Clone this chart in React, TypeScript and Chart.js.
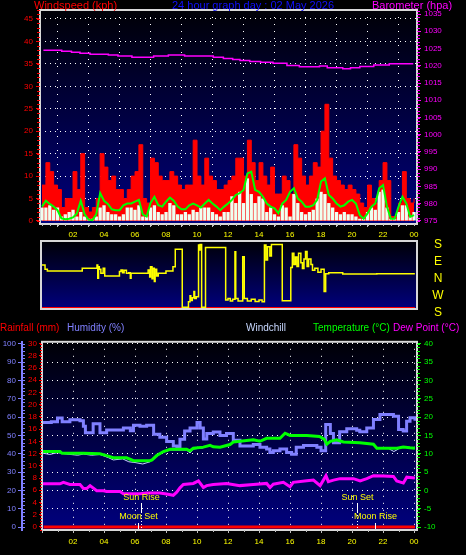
import React, { useEffect, useRef } from 'react';
import { Chart, registerables } from 'chart.js';

Chart.register(...registerables);

const FONT = "'Liberation Sans', Arial, sans-serif";

// ---------- shared hour axis ----------
const hourTicks = [0, 2, 4, 6, 8, 10, 12, 14, 16, 18, 20, 22, 24];

// ---------- top panel: wind (15-minute samples, 00:00 .. 24:00) ----------
const windStepHours = 0.25;
const windGust = [8, 13, 11, 8, 7, 3, 5, 5, 11, 7, 15, 3, 2, 3, 5, 15, 12, 9, 10, 7, 7, 5, 7, 10, 11, 17, 5, 4, 14, 13, 10, 9, 9, 11, 10, 8, 7, 8, 8, 18, 10, 8, 14, 10, 9, 7, 7, 8, 9, 10, 14, 14, 10, 18, 13, 9, 13, 10, 8, 12, 6, 6, 10, 9, 6, 17, 14, 10, 8, 10, 13, 12, 20, 26, 14, 10, 9, 8, 7, 8, 7, 6, 4, 3, 8, 5, 4, 9, 13, 9, 1, 1, 4, 11, 5, 4, 5];
const windSpeed = [3, 3, 3.5, 2.5, 3, 1, 1.5, 2, 2.5, 1, 2, 1, 0.5, 0.5, 1, 3, 3.5, 2, 1.5, 1.5, 1, 1.5, 3, 3, 2.5, 3.5, 1, 1, 3, 3.5, 2, 1.5, 2, 4, 3.5, 1.5, 1.5, 2, 1.5, 2.5, 2, 3, 3, 3, 2, 1.5, 1, 2, 2, 5.5, 4, 6.5, 4, 9.5, 6, 4, 5.5, 5, 2, 3, 1.5, 1, 3.5, 3, 1, 6, 4, 2, 1.5, 2, 2.5, 5, 6.5, 6, 4, 3, 2, 1.5, 2, 1.5, 1.5, 1, 0.5, 0.5, 2, 3, 2.5, 6.5, 7, 3, 0.5, 0.5, 2, 3.5, 3.5, 1, 2];
const windAverage = [3.2, 4.5, 3.8, 3.2, 2.4, 0.6, 0.4, 0.5, 0.8, 1.7, 4.5, 1.5, 0.3, 0.2, 1.5, 6.2, 4.5, 3.8, 2.6, 2.4, 2.4, 3.5, 3.9, 3.9, 4.3, 4.7, 1.5, 1.0, 4.0, 5.4, 3.5, 3.2, 4.3, 5.2, 4.5, 3.2, 2.6, 2.6, 3.5, 3.9, 3.5, 3.0, 3.9, 4.7, 3.9, 3.2, 2.4, 3.2, 3.9, 4.7, 5.8, 6.2, 6.9, 10.6, 11, 6.9, 6.5, 5.4, 3.9, 3.2, 2.8, 1.7, 3.9, 4.7, 6.5, 7.3, 5, 4.3, 3.2, 3.2, 3.5, 4.7, 8.8, 9.5, 5.8, 5, 3.9, 3.2, 3.5, 4.3, 4.7, 3.9, 1.3, 0.5, 1.7, 3.2, 3.9, 7.3, 8, 3.2, 0.5, 0.5, 3.2, 5.4, 3.9, 0.9, 1.3];
const windTicks = [0, 5, 10, 15, 20, 25, 30, 35, 40, 45];

const baroHours = [0.09, 1.27, 1.9, 2.45, 3.1, 4.28, 4.9, 5.8, 7.2, 8.15, 9.2, 11.05, 11.7, 12.3, 12.77, 13.4, 14.1, 14.9, 15.8, 16.6, 17.9, 18.4, 19.4, 19.9, 20.5, 21.4, 22.4, 23.95];
const baroValues = [1024.5, 1024.2, 1023.9, 1023.6, 1023.3, 1023.1, 1022.8, 1022.5, 1022.8, 1023.1, 1022.8, 1022.5, 1022.1, 1021.8, 1021.5, 1021.2, 1021.0, 1020.7, 1020.1, 1019.7, 1019.9, 1019.4, 1019.1, 1019.4, 1019.8, 1020.2, 1020.6, 1020.6];
const baroTicks = [975, 980, 985, 990, 995, 1000, 1005, 1010, 1015, 1020, 1025, 1030, 1035];

// ---------- middle panel: wind direction ----------
const dirHours = [0.0, 0.2, 0.35, 2.6, 3.55, 3.6, 3.65, 3.7, 3.8, 3.95, 4.05, 5.0, 5.1, 5.2, 5.3, 5.45, 5.6, 5.7, 5.75, 6.0, 6.85, 6.95, 7.0, 7.1, 7.15, 7.25, 7.3, 7.4, 7.5, 8.0, 8.45, 8.6, 9.05, 9.45, 9.55, 9.6, 9.7, 9.8, 9.85, 9.95, 10.1, 10.15, 10.2, 10.3, 10.55, 11.85, 12.0, 12.15, 12.3, 12.45, 12.5, 12.65, 12.95, 13.05, 13.25, 13.5, 13.75, 14.0, 14.2, 14.35, 14.45, 14.55, 14.7, 14.8, 15.5, 16.05, 16.15, 16.25, 16.35, 16.45, 16.55, 16.7, 16.8, 16.9, 17.0, 17.1, 17.2, 17.35, 17.45, 17.6, 17.8, 18.0, 18.2, 18.3, 18.5, 19.4, 21.6, 24.05];
const dirValues = [53, 30, 21, 36, 53, -17, 44, 30, 9, 36, -5, 18, 27, 12, 25, 9, 12, -17, 9, 9, 27, -10, 44, -20, 36, -35, 30, -5, 9, 21, 44, 136, -171, -141, -110, -135, -120, -88, -125, -115, 159, 132, 162, -171, 145, -132, -125, -138, -128, 123, -125, -138, 97, -125, -138, -128, -140, -132, -142, 159, 80, 150, 100, 162, -136, 40, 115, 55, 95, 45, 115, 65, 35, 85, 125, 45, 85, 55, 25, 36, 15, 30, -88, 7, 12, 5, 7, 7];
const dirBaseHours = [0.0, 24.05];
const dirBaseValues = [-175, -175];
const compassValues = [180, 90, 0, -90, -180];
const compassLabels = ['S', 'E', 'N', 'W', 'S'];

// ---------- bottom panel ----------
const humHours = [0, 0.6, 1.0, 1.3, 1.8, 2.45, 2.67, 2.8, 3.3, 3.74, 4.17, 5.25, 5.7, 5.9, 6.32, 6.75, 7.2, 7.6, 8.04, 8.47, 8.7, 8.9, 9.2, 9.55, 10.0, 10.2, 10.41, 10.63, 11.05, 11.48, 11.9, 12.34, 12.77, 13.2, 13.63, 14.06, 14.49, 14.7, 14.92, 15.35, 15.78, 16.1, 16.4, 16.87, 17.3, 17.73, 18.0, 18.3, 18.6, 18.8, 19.2, 19.66, 20.3, 20.5, 20.95, 21.38, 21.8, 22.67, 23.0, 23.3, 23.52, 23.74, 24.06];
const humValues = [57, 57.5, 59.5, 57.5, 58.5, 58, 55, 51.5, 56.4, 51.5, 53, 54, 52.5, 55.6, 55, 55.6, 50.6, 49, 46.7, 44.3, 43.7, 47.9, 52.4, 54, 57, 54, 48, 51, 51.9, 50, 51, 47.4, 44.3, 44.3, 45, 43.5, 42.6, 40.7, 41.6, 42.6, 40.7, 39.8, 43.5, 44.5, 44.5, 43.5, 41.6, 56, 51, 46, 52, 53.7, 52.8, 52, 54, 58.7, 61.4, 60.5, 53.3, 52.4, 57.7, 59.6, 58];

const tempHours = [0, 1.16, 1.3, 2.67, 3.74, 4.17, 4.6, 5.46, 5.9, 6.97, 7.1, 7.4, 7.83, 8.26, 9.33, 9.55, 9.76, 10.41, 10.84, 11.05, 11.48, 12.13, 12.34, 12.77, 13.63, 14.06, 14.49, 15.35, 15.68, 16.0, 17.08, 17.9, 18.2, 18.37, 18.6, 19.0, 19.44, 20.5, 21.38, 21.6, 22.9, 23.3, 23.74, 24.06];
const tempValues = [10.6, 10.6, 10.1, 10.1, 10.0, 9.5, 8.9, 8.9, 8.1, 8.1, 8.3, 9.5, 10.6, 11.2, 11.2, 10.8, 11.5, 11.8, 12.3, 11.9, 11.8, 12.5, 13.2, 13.4, 13.8, 13.4, 14.2, 14.2, 15.6, 15.0, 15.0, 14.7, 14.0, 12.6, 13.4, 13.8, 13.2, 13.0, 12.6, 11.5, 11.5, 11.8, 11.6, 11.5];

const chillHours = [0, 0.5, 1.0, 1.6, 2.3, 2.67, 3.2, 3.74, 4.3, 4.6, 5.2, 5.6, 6.0, 6.5, 6.97, 7.4, 7.83, 8.26, 9.33, 9.55, 9.76, 10.41, 10.5, 22.4, 22.7, 23.0];
const chillValues = [10.2, 9.8, 10.3, 9.9, 9.6, 9.9, 9.6, 9.8, 8.9, 8.3, 8.6, 7.8, 7.6, 7.2, 7.8, 9.3, 10.4, 11.0, 11.0, 10.2, 11.3, 11.6, null, 11.3, 10.6, 11.3];

const dewHours = [0, 1.16, 1.38, 1.8, 2.45, 2.67, 2.88, 3.1, 3.53, 3.96, 4.17, 5.03, 5.25, 6.32, 6.75, 7.61, 8.04, 8.47, 8.69, 8.9, 9.12, 9.76, 10.09, 10.41, 10.62, 11.05, 11.91, 12.77, 13.63, 14.49, 14.71, 14.92, 15.57, 16.0, 16.21, 17.08, 17.51, 17.94, 18.32, 18.47, 18.8, 19.23, 20.09, 20.52, 20.95, 21.38, 22.02, 22.67, 22.88, 23.31, 23.53, 24.06];
const dewValues = [1.8, 1.8, 2.2, 1.6, 1.6, 0.5, 0.5, 1.3, -0.1, -0.1, -0.3, -0.3, -0.9, -0.9, -0.7, -0.7, -1.0, -1.35, -0.5, 0.7, 1.6, 1.9, 2.6, 0.8, 1.3, 1.6, 1.9, 1.3, 1.6, 1.9, 0.8, 1.7, 2.2, 1.0, 2.2, 2.6, 2.8, 1.3, 4.0, 2.4, 2.8, 3.2, 3.2, 2.6, 3.2, 4.0, 3.9, 3.8, 2.6, 2.0, 3.6, 3.4];

const rainHours = [0.1, 24.06];
const rainValues = [0, 0];

const humTicks = [0, 10, 20, 30, 40, 50, 60, 70, 80, 90, 100];
const rainTicks = [0, 2, 4, 6, 8, 10, 12, 14, 16, 18, 20, 22, 24, 26, 28, 30];
const tempTicks = [-10, -5, 0, 5, 10, 15, 20, 25, 30, 35, 40];

const eventLabels = ['Sun Rise', 'Moon Set', 'Sun Set', 'Moon Rise'];
const eventHours = [6.39, 6.21, 20.34, 21.5];
const eventRows = [0, 1, 0, 1];

// ---------- helpers ----------
const pts = (xs: number[], ys: (number | null)[]) => xs.map((x, i) => ({ x, y: ys[i] }));
const windPts = (vals: number[]) => vals.map((v, i) => ({ x: i * windStepHours, y: v }));
const hourLabel = (v: number) => (v === 0 ? '' : String(Math.round(v) % 24).padStart(2, '0'));
const plainLabel = (v: any) => String(v);
const setTicks = (vals: number[]) => (s: any) => { s.ticks = vals.map((v) => ({ value: v })); };
const clear = 'rgba(0,0,0,0)';

const bgPlugin = {
  id: 'bgGrad',
  beforeDraw(chart: any) {
    const { ctx, chartArea: a } = chart;
    if (!a) return;
    const g = ctx.createLinearGradient(0, a.top, 0, a.bottom);
    g.addColorStop(0, '#000006');
    g.addColorStop(1, '#00007e');
    ctx.save();
    ctx.fillStyle = g;
    ctx.fillRect(a.left, a.top, a.right - a.left, a.bottom - a.top);
    ctx.restore();
  },
};

const framePlugin = {
  id: 'frame',
  afterDraw(chart: any) {
    const { ctx, chartArea: a } = chart;
    ctx.save();
    ctx.strokeStyle = '#d8d8d8';
    ctx.lineWidth = 2;
    ctx.strokeRect(a.left, a.top, a.right - a.left, a.bottom - a.top);
    ctx.restore();
  },
};

const compassPlugin = {
  id: 'compass',
  afterDraw(chart: any) {
    const { ctx, chartArea: a } = chart;
    const s = chart.scales.yD;
    ctx.save();
    ctx.font = `12px ${FONT}`;
    ctx.fillStyle = '#ffff00';
    ctx.textAlign = 'center';
    ctx.textBaseline = 'middle';
    compassValues.forEach((v, i) => {
      ctx.fillText(compassLabels[i], a.right + 21, s.getPixelForValue(v) + 4);
    });
    ctx.restore();
  },
};

type Minor = { id: string; step: number; len: number; color: string; dir: number };
const minorPlugin = (list: Minor[]) => ({
  id: 'minorTicks',
  afterDraw(chart: any) {
    const { ctx } = chart;
    ctx.save();
    ctx.lineWidth = 1;
    for (const m of list) {
      const s = chart.scales[m.id];
      if (!s) continue;
      ctx.strokeStyle = m.color;
      const n0 = Math.ceil(s.min / m.step - 1e-9);
      const n1 = Math.floor(s.max / m.step + 1e-9);
      for (let n = n0; n <= n1; n++) {
        const p = Math.round(s.getPixelForValue(n * m.step)) + 0.5;
        ctx.beginPath();
        if (s.isHorizontal()) {
          const y = s.top;
          ctx.moveTo(p, y);
          ctx.lineTo(p, y + m.dir * m.len);
        } else {
          const x = s.position === 'left' ? s.right : s.left;
          ctx.moveTo(x, p);
          ctx.lineTo(x + m.dir * m.len, p);
        }
        ctx.stroke();
      }
    }
    ctx.restore();
  },
});

const eventsPlugin = {
  id: 'events',
  afterDatasetsDraw(chart: any) {
    const { ctx, chartArea: a } = chart;
    const xs = chart.scales.x;
    ctx.save();
    ctx.font = `9px ${FONT}`;
    ctx.textAlign = 'center';
    ctx.textBaseline = 'middle';
    eventLabels.forEach((lab, i) => {
      const px = Math.round(xs.getPixelForValue(eventHours[i])) + 0.5;
      const row = eventRows[i];
      ctx.fillStyle = '#ffff00';
      ctx.fillText(lab, px, row === 0 ? a.bottom - 32 : a.bottom - 13);
      ctx.strokeStyle = '#ffffff';
      ctx.lineWidth = 1;
      ctx.setLineDash([]);
      ctx.beginPath();
      if (row === 0) {
        ctx.moveTo(px, a.bottom - 27);
        ctx.lineTo(px, a.bottom - 18);
        ctx.stroke();
        ctx.setLineDash([1, 2]);
        ctx.beginPath();
        ctx.moveTo(px, a.bottom - 18);
        ctx.lineTo(px, a.bottom);
        ctx.stroke();
      } else {
        ctx.moveTo(px, a.bottom - 7);
        ctx.lineTo(px, a.bottom);
        ctx.stroke();
      }
    });
    ctx.restore();
  },
};

const tickFont = { family: FONT, size: 8 };
const X_MAX = 24.19;

export default function App() {
  const topRef = useRef<HTMLCanvasElement>(null);
  const midRef = useRef<HTMLCanvasElement>(null);
  const botRef = useRef<HTMLCanvasElement>(null);

  useEffect(() => {
    Chart.defaults.font.family = FONT;
    const common = {
      responsive: false,
      animation: false as const,
      events: [] as any[],
      plugins: { legend: { display: false }, tooltip: { enabled: false }, title: { display: false } },
    };

    const top = new Chart(topRef.current as HTMLCanvasElement, {
      type: 'line',
      data: {
        datasets: [
          { type: 'line', data: pts(baroHours, baroValues), yAxisID: 'yB', borderColor: '#ff00ff', borderWidth: 1.5, pointRadius: 0, stepped: true, order: 1 },
          { type: 'line', data: windPts(windAverage), yAxisID: 'yW', borderColor: '#00ff00', borderWidth: 2, pointRadius: 0, order: 2 },
          { type: 'bar', data: windPts(windSpeed), yAxisID: 'yW', backgroundColor: '#eefff0', barPercentage: 0.85, categoryPercentage: 1, order: 3 },
          { type: 'line', data: windPts(windGust), yAxisID: 'yW', borderColor: '#ff0000', backgroundColor: '#ff0000', borderWidth: 1, fill: 'origin', stepped: true, pointRadius: 0, order: 4 },
        ] as any,
      },
      options: {
        ...common,
        layout: { padding: { top: 10, left: 0, right: 0, bottom: 0 } },
        scales: {
          x: {
            type: 'linear', min: -0.13, max: X_MAX, offset: false,
            afterBuildTicks: setTicks(hourTicks),
            afterFit: (s: any) => { s.height = 17; },
            ticks: { color: '#ffff00', font: tickFont, padding: 3, maxRotation: 0, autoSkip: false, callback: (v: any) => hourLabel(Number(v)) },
            grid: { color: (c: any) => (c.tick && c.tick.value === 0 ? clear : '#ffffff'), tickLength: 3, tickColor: '#c0c0c0' },
            border: { display: false, dash: [1, 6] },
          },
          yW: {
            type: 'linear', position: 'left', min: -0.67, max: 47,
            afterBuildTicks: setTicks(windTicks),
            afterFit: (s: any) => { s.width = 40; },
            ticks: { color: '#ff0000', font: tickFont, padding: 3, autoSkip: false, callback: plainLabel },
            grid: { color: (c: any) => (c.tick && c.tick.value === 0 ? clear : '#ffffff'), tickLength: 4, tickColor: '#ff0000' },
            border: { display: false, dash: [1, 4] },
          },
          yB: {
            type: 'linear', position: 'right', min: 974.13, max: 1036.16,
            afterBuildTicks: setTicks(baroTicks),
            afterFit: (s: any) => { s.width = 49; },
            ticks: { color: '#ff00ff', font: tickFont, padding: 3, autoSkip: false, callback: plainLabel },
            grid: { drawOnChartArea: false, tickLength: 4, tickColor: '#ff00ff' },
            border: { display: false },
          },
        },
      } as any,
      plugins: [bgPlugin, framePlugin, minorPlugin([
        { id: 'yW', step: 1, len: 3, color: '#ff0000', dir: -1 },
        { id: 'yB', step: 1, len: 3, color: '#ff00ff', dir: 1 },
        { id: 'x', step: 0.5, len: 2, color: '#c0c0c0', dir: 1 },
      ])],
    });

    const mid = new Chart(midRef.current as HTMLCanvasElement, {
      type: 'line',
      data: {
        datasets: [
          { data: pts(dirBaseHours, dirBaseValues), yAxisID: 'yD', borderColor: '#ff0000', borderWidth: 2, pointRadius: 0, order: 2 },
          { data: pts(dirHours, dirValues), yAxisID: 'yD', borderColor: '#ffff00', borderWidth: 1.5, pointRadius: 0, stepped: true, order: 1 },
        ] as any,
      },
      options: {
        ...common,
        layout: { padding: { top: 9, left: 41, right: 0, bottom: 11 } },
        scales: {
          x: { type: 'linear', display: false, min: -0.06, max: X_MAX },
          yD: {
            type: 'linear', position: 'right', min: -180, max: 180,
            afterBuildTicks: setTicks(compassValues),
            afterFit: (s: any) => { s.width = 49; },
            ticks: { display: false },
            grid: { display: false },
            border: { display: false },
          },
        },
      } as any,
      plugins: [bgPlugin, framePlugin, compassPlugin],
    });

    const bot = new Chart(botRef.current as HTMLCanvasElement, {
      type: 'line',
      data: {
        datasets: [
          { data: pts(rainHours, rainValues), yAxisID: 'yR', borderColor: '#ff0000', borderWidth: 3, pointRadius: 0, order: 5 },
          { data: pts(humHours, humValues), yAxisID: 'yH', borderColor: '#8080ff', borderWidth: 3, pointRadius: 0, stepped: true, order: 4 },
          { data: pts(chillHours, chillValues), yAxisID: 'yT', borderColor: '#c8d8ff', borderWidth: 1, pointRadius: 0, spanGaps: false, order: 3 },
          { data: pts(tempHours, tempValues), yAxisID: 'yT', borderColor: '#00ff00', borderWidth: 3, pointRadius: 0, order: 2 },
          { data: pts(dewHours, dewValues), yAxisID: 'yT', borderColor: '#ff00ff', borderWidth: 3, pointRadius: 0, order: 1 },
        ] as any,
      },
      options: {
        ...common,
        layout: { padding: { top: 6, left: 0, right: 0, bottom: 0 } },
        scales: {
          x: {
            type: 'linear', min: 0, max: X_MAX, offset: false,
            afterBuildTicks: setTicks(hourTicks),
            afterFit: (s: any) => { s.height = 25; },
            ticks: { color: '#ffff00', font: tickFont, padding: 4, maxRotation: 0, autoSkip: false, callback: (v: any) => hourLabel(Number(v)) },
            grid: { color: (c: any) => (c.tick && c.tick.value === 0 ? clear : '#ffffff'), tickLength: 3, tickColor: '#c0c0c0' },
            border: { display: false, dash: [1, 6] },
          },
          yH: {
            type: 'linear', position: 'left', weight: 1, min: -1.6, max: 101.1,
            afterBuildTicks: setTicks(humTicks),
            afterFit: (s: any) => { s.width = 22; },
            ticks: { color: '#8080ff', font: tickFont, padding: 2, autoSkip: false, callback: plainLabel },
            grid: { drawOnChartArea: false, tickLength: 4, tickColor: '#8080ff' },
            border: { display: true, color: '#8080ff', width: 2 },
          },
          yR: {
            type: 'linear', position: 'left', weight: 0, min: -0.5, max: 30.3,
            afterBuildTicks: setTicks(rainTicks),
            afterFit: (s: any) => { s.width = 20; },
            ticks: { color: '#ff0000', font: tickFont, padding: 2, autoSkip: false, callback: plainLabel },
            grid: { drawOnChartArea: false, tickLength: 3, tickColor: '#ff0000' },
            border: { display: false },
          },
          yT: {
            type: 'linear', position: 'right', min: -10.81, max: 40.54,
            afterBuildTicks: setTicks(tempTicks),
            afterFit: (s: any) => { s.width = 49; },
            ticks: { color: '#00ff00', font: tickFont, padding: 3, autoSkip: false, callback: plainLabel },
            grid: { color: '#ffffff', tickLength: 4, tickColor: '#00ff00' },
            border: { display: false, dash: [1, 4] },
          },
        },
      } as any,
      plugins: [bgPlugin, eventsPlugin, framePlugin, minorPlugin([
        { id: 'yR', step: 0.5, len: 2, color: '#ff0000', dir: -1 },
        { id: 'yH', step: 2, len: 3, color: '#8080ff', dir: 1 },
        { id: 'yT', step: 1, len: 3, color: '#00ff00', dir: 1 },
        { id: 'x', step: 1, len: 2, color: '#c0c0c0', dir: 1 },
      ])],
    });

    return () => { top.destroy(); mid.destroy(); bot.destroy(); };
  }, []);

  const txt = (left: number, topPx: number, color: string, size: number, s: string) => (
    <div style={{ position: 'absolute', left, top: topPx, color, fontFamily: FONT, fontSize: size, lineHeight: '11px', whiteSpace: 'nowrap' }}>{s}</div>
  );

  return (
    <div style={{ position: 'fixed', left: 0, top: 0, width: 466, height: 555, background: '#000', overflow: 'hidden' }}>
      <canvas ref={topRef} width={466} height={241} style={{ position: 'absolute', left: 0, top: 0, width: 466, height: 241 }} />
      <canvas ref={midRef} width={466} height={88} style={{ position: 'absolute', left: 0, top: 232, width: 466, height: 88 }} />
      <canvas ref={botRef} width={466} height={221} style={{ position: 'absolute', left: 0, top: 334, width: 466, height: 221 }} />
      {txt(34, 0, '#ff0000', 11, 'Windspeed (kph)')}
      {txt(172, 0, '#1010ff', 11, '24 hour graph day : 02 May 2026')}
      {txt(372, 0, '#ff00ff', 11, 'Barometer (hpa)')}
      {txt(0, 322, '#ff0000', 10, 'Rainfall (mm)')}
      {txt(67, 322, '#8080ff', 10, 'Humidity (%)')}
      {txt(246, 322, '#c8d8ff', 10, 'Windchill')}
      {txt(313, 322, '#00ff00', 10, 'Temperature (°C)')}
      {txt(393, 322, '#ff00ff', 10, 'Dew Point (°C)')}
    </div>
  );
}
